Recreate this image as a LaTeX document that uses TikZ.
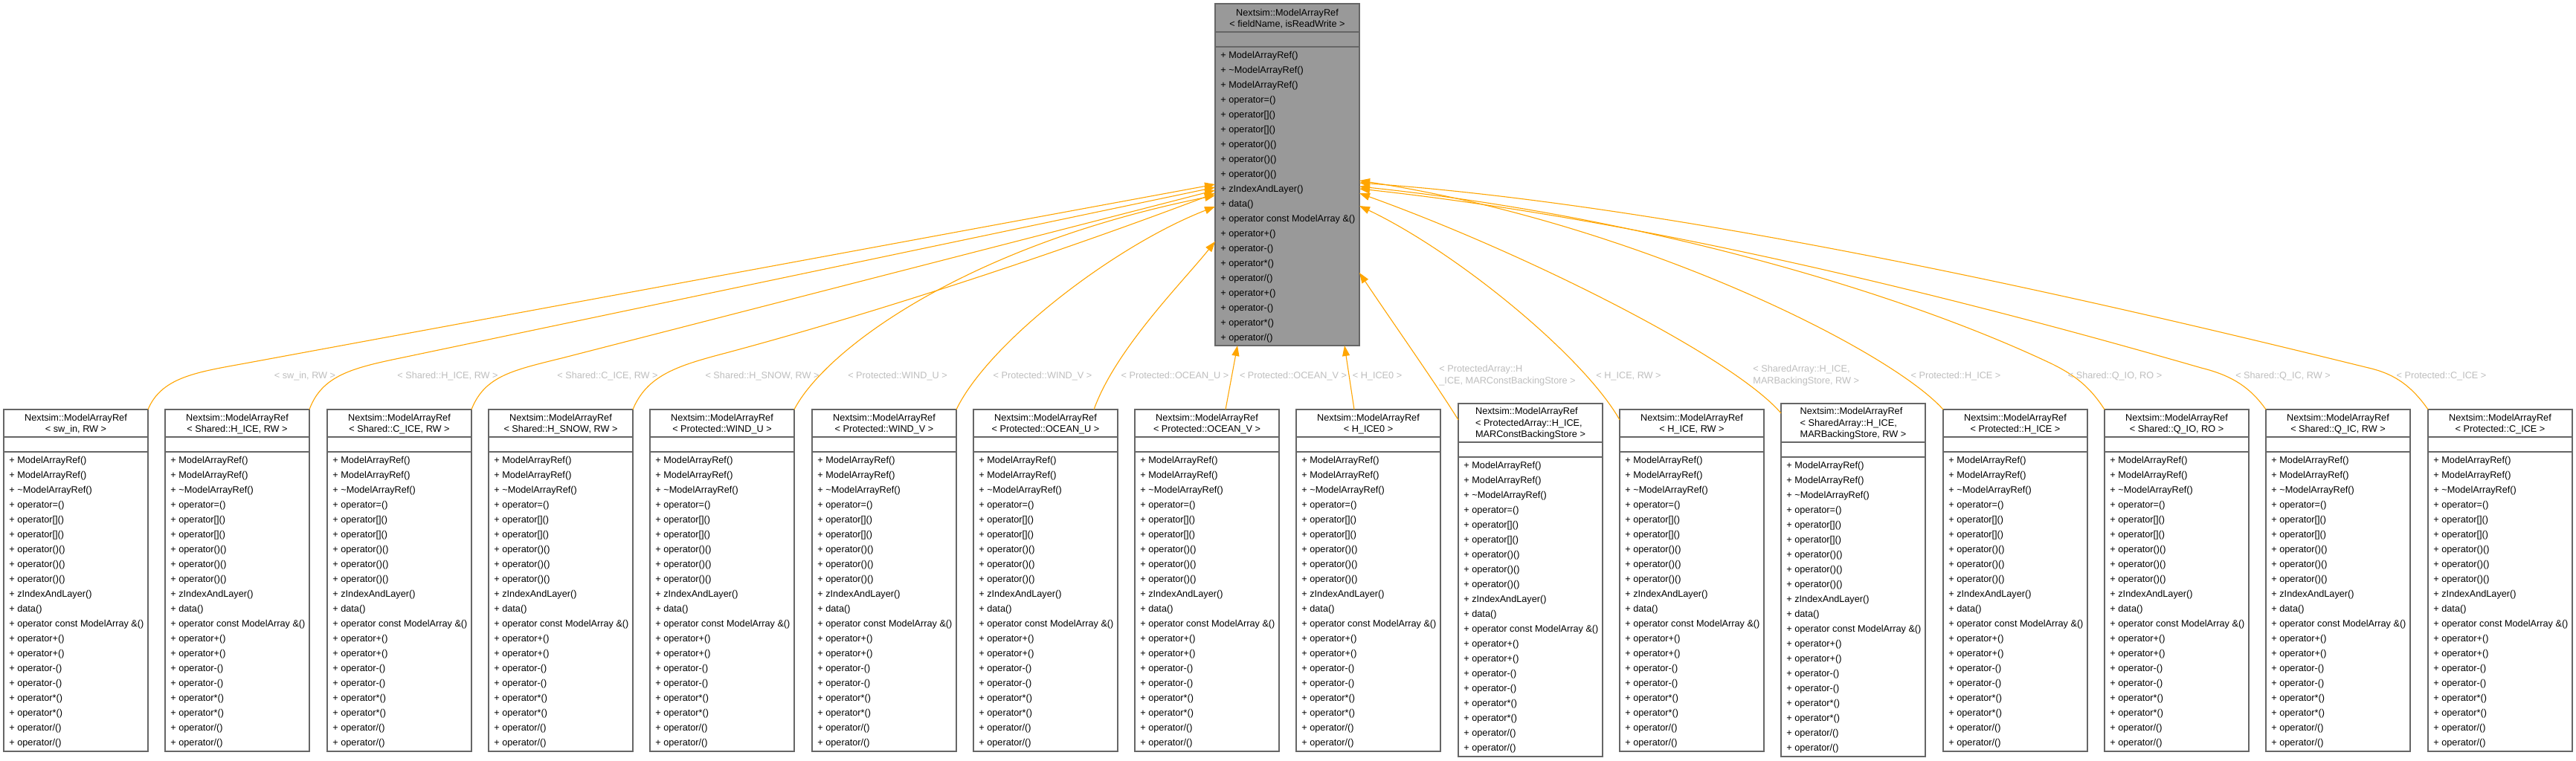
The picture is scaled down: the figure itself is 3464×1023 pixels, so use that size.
\documentclass[tikz,border=0pt]{standalone}
\usepackage{fontspec}
\setmainfont{Liberation Sans}
\usetikzlibrary{arrows.meta}
\definecolor{edgeorange}{HTML}{FFA500}
\definecolor{boxgray}{HTML}{666666}
\definecolor{basegray}{HTML}{999999}
\definecolor{labelgray}{HTML}{BEBEBE}
\newcommand\classnode[6]{%
  \node[#6, minimum width=97pt, minimum height={(#5-#3)*0.5pt}] (#1) at (#2,#3) {};
  \draw[divider] (#2,#4) -- ({#2+194},#4);
  \draw[divider] (#2,{#4+20}) -- ({#2+194},{#4+20});
}
\newcommand\memberrows[4]{%
  \foreach \m [count=\i from 0] in #4 {\node[mem] (#1m\i) at ({#2+7},{#3+35.5+20*\i}) {+ \m};}
}
\def\childmembers{{ModelArrayRef()},{ModelArrayRef()},{\textasciitilde ModelArrayRef()},{operator=()},{operator[]()},{operator[]()},{operator()()},{operator()()},{operator()()},{zIndexAndLayer()},{data()},{operator const ModelArray \&()},{operator+()},{operator+()},{operator-()},{operator-()},{operator*()},{operator*()},{operator/()},{operator/()}}
\def\basemembers{{ModelArrayRef()},{\textasciitilde ModelArrayRef()},{ModelArrayRef()},{operator=()},{operator[]()},{operator[]()},{operator()()},{operator()()},{operator()()},{zIndexAndLayer()},{data()},{operator const ModelArray \&()},{operator+()},{operator-()},{operator*()},{operator/()},{operator+()},{operator-()},{operator*()},{operator/()}}
\begin{document}
\begin{tikzpicture}[x=0.5pt,y=-0.5pt,
  clsbox/.style={draw=boxgray, line width=0.7pt, fill=white, inner sep=0pt, outer sep=0pt, anchor=north west},
  basebox/.style={clsbox, fill=basegray},
  divider/.style={draw=boxgray, line width=0.7pt},
  hdr/.style={font=\fontsize{6.35}{7.5}\selectfont, align=center, inner sep=0pt},
  hdrl/.style={font=\fontsize{6.35}{7.8}\selectfont, align=left, inner sep=0pt},
  mem/.style={font=\fontsize{6.35}{7.6}\selectfont, anchor=base west, inner sep=0pt},
  elabel/.style={font=\fontsize{6.35}{8}\selectfont, text=labelgray, inner sep=0pt},
  elabell/.style={elabel, align=left, anchor=west},
  inh/.style={draw=edgeorange, line width=0.55pt, -{Triangle[length=7pt,width=5pt]}}
]
\path[fill=white] (0,0) rectangle (3464,1023);
\useasboundingbox (0,0) rectangle (3464,1023);

% base class
\classnode{base}{1634}{5}{43}{465}{basebox}
\node[hdr] (baseh) at (1731,25.5) {Nextsim::ModelArrayRef\\< fieldName, isReadWrite >};
\memberrows{base}{1634}{43}{\basemembers}

% derived instances
\classnode{c0}{5}{551}{588}{1011}{clsbox}
\node[hdr] (c0h) at (102,571) {Nextsim::ModelArrayRef\\< sw\_in, RW >};
\memberrows{c0}{5}{588}{\childmembers}

\classnode{c1}{222}{551}{588}{1011}{clsbox}
\node[hdr] (c1h) at (319,571) {Nextsim::ModelArrayRef\\< Shared::H\_ICE, RW >};
\memberrows{c1}{222}{588}{\childmembers}

\classnode{c2}{440}{551}{588}{1011}{clsbox}
\node[hdr] (c2h) at (537,571) {Nextsim::ModelArrayRef\\< Shared::C\_ICE, RW >};
\memberrows{c2}{440}{588}{\childmembers}

\classnode{c3}{657}{551}{588}{1011}{clsbox}
\node[hdr] (c3h) at (754,571) {Nextsim::ModelArrayRef\\< Shared::H\_SNOW, RW >};
\memberrows{c3}{657}{588}{\childmembers}

\classnode{c4}{874}{551}{588}{1011}{clsbox}
\node[hdr] (c4h) at (971,571) {Nextsim::ModelArrayRef\\< Protected::WIND\_U >};
\memberrows{c4}{874}{588}{\childmembers}

\classnode{c5}{1092}{551}{588}{1011}{clsbox}
\node[hdr] (c5h) at (1189,571) {Nextsim::ModelArrayRef\\< Protected::WIND\_V >};
\memberrows{c5}{1092}{588}{\childmembers}

\classnode{c6}{1309}{551}{588}{1011}{clsbox}
\node[hdr] (c6h) at (1406,571) {Nextsim::ModelArrayRef\\< Protected::OCEAN\_U >};
\memberrows{c6}{1309}{588}{\childmembers}

\classnode{c7}{1526}{551}{588}{1011}{clsbox}
\node[hdr] (c7h) at (1623,571) {Nextsim::ModelArrayRef\\< Protected::OCEAN\_V >};
\memberrows{c7}{1526}{588}{\childmembers}

\classnode{c8}{1743}{551}{588}{1011}{clsbox}
\node[hdr] (c8h) at (1840,571) {Nextsim::ModelArrayRef\\< H\_ICE0 >};
\memberrows{c8}{1743}{588}{\childmembers}

\classnode{c9}{1961}{543}{595}{1018}{clsbox}
\node[hdrl] (c9h) at (2058,570) {Nextsim::ModelArrayRef\\< ProtectedArray::H\_ICE,\\ MARConstBackingStore >};
\memberrows{c9}{1961}{595}{\childmembers}

\classnode{c10}{2178}{551}{588}{1011}{clsbox}
\node[hdr] (c10h) at (2275,571) {Nextsim::ModelArrayRef\\< H\_ICE, RW >};
\memberrows{c10}{2178}{588}{\childmembers}

\classnode{c11}{2395}{543}{595}{1018}{clsbox}
\node[hdrl] (c11h) at (2492,570) {Nextsim::ModelArrayRef\\< SharedArray::H\_ICE,\\ MARBackingStore, RW >};
\memberrows{c11}{2395}{595}{\childmembers}

\classnode{c12}{2613}{551}{588}{1011}{clsbox}
\node[hdr] (c12h) at (2710,571) {Nextsim::ModelArrayRef\\< Protected::H\_ICE >};
\memberrows{c12}{2613}{588}{\childmembers}

\classnode{c13}{2830}{551}{588}{1011}{clsbox}
\node[hdr] (c13h) at (2927,571) {Nextsim::ModelArrayRef\\< Shared::Q\_IO, RO >};
\memberrows{c13}{2830}{588}{\childmembers}

\classnode{c14}{3047}{551}{588}{1011}{clsbox}
\node[hdr] (c14h) at (3144,571) {Nextsim::ModelArrayRef\\< Shared::Q\_IC, RW >};
\memberrows{c14}{3047}{588}{\childmembers}

\classnode{c15}{3265}{551}{588}{1011}{clsbox}
\node[hdr] (c15h) at (3362,571) {Nextsim::ModelArrayRef\\< Protected::C\_ICE >};
\memberrows{c15}{3265}{588}{\childmembers}

% arrow tips on the base class
\coordinate (t0) at (1634,248);
\coordinate (t1) at (1634,252);
\coordinate (t2) at (1634,256);
\coordinate (t3) at (1634,260);
\coordinate (t4) at (1634,263);
\coordinate (t5) at (1634,278);
\coordinate (t6) at (1634,325);
\coordinate (t7) at (1664,465);
\coordinate (t8) at (1808,465);
\coordinate (t9) at (1828,367);
\coordinate (t10) at (1828,277);
\coordinate (t11) at (1828,260);
\coordinate (t12) at (1828,243);
\coordinate (t13) at (1828,251);
\coordinate (t14) at (1828,254);
\coordinate (t15) at (1828,246);

% connectors
\draw[inh] (c0.north east) .. controls (218,505) and (271,500) .. (340,487) -- (t0);
\draw[inh] (c1.north east) .. controls (433,505) and (474,495) .. (542,481) -- (t1);
\draw[inh] (c2.north east) .. controls (652,505) and (691,498) .. (759,481) -- (t2);
\draw[inh] (c3.north east) .. controls (870,505) and (911,492) .. (976,475) .. controls (1200,415) and (1450,330) .. (t3);
\draw[inh] (c4.north east) .. controls (1110,470) and (1300,330) .. (t4);
\draw[inh] (c5.north east) .. controls (1330,460) and (1500,330) .. (t5);
\draw[inh] ([xshift=32.5pt]c6.north) .. controls (1500,470) and (1590,380) .. (t6);
\draw[inh] ([xshift=12.5pt]c7.north) -- (t7);
\draw[inh] ([xshift=-9.5pt]c8.north) -- (t8);
\draw[inh] ([yshift=-11pt]c9.north west) .. controls (1930,515) and (1870,430) .. (t9);
\draw[inh] ([yshift=-7pt]c10.north west) .. controls (2130,480) and (1960,340) .. (t10);
\draw[inh] ([yshift=-6.5pt]c11.north west) .. controls (2330,480) and (2050,340) .. (t11);
\draw[inh] (c12.north west) .. controls (2540,470) and (2200,300) .. (t12);
\draw[inh] (c13.north west) .. controls (2810,520) and (2790,505) .. (2760,490) .. controls (2550,390) and (2200,290) .. (t13);
\draw[inh] (c14.north west) .. controls (3025,520) and (3000,505) .. (2960,495) .. controls (2700,420) and (2250,300) .. (t14);
\draw[inh] (c15.north west) .. controls (3240,515) and (3215,502) .. (3185,495) .. controls (2900,425) and (2300,280) .. (t15);

% connector labels
\node[elabel] (l0) at (410,506) {< sw\_in, RW >};
\node[elabel] (l1) at (602,506) {< Shared::H\_ICE, RW >};
\node[elabel] (l2) at (817,506) {< Shared::C\_ICE, RW >};
\node[elabel] (l3) at (1025,506) {< Shared::H\_SNOW, RW >};
\node[elabel] (l4) at (1207,506) {< Protected::WIND\_U >};
\node[elabel] (l5) at (1402,506) {< Protected::WIND\_V >};
\node[elabel] (l6) at (1580,506) {< Protected::OCEAN\_U >};
\node[elabel] (l7) at (1739,506) {< Protected::OCEAN\_V >};
\node[elabel] (l8) at (1852,506) {< H\_ICE0 >};
\node[elabell] (l9) at (1935,505) {< ProtectedArray::H\\\_ICE, MARConstBackingStore >};
\node[elabel] (l10) at (2190,506) {< H\_ICE, RW >};
\node[elabell] (l11) at (2357,505) {< SharedArray::H\_ICE,\\MARBackingStore, RW >};
\node[elabel] (l12) at (2630,506) {< Protected::H\_ICE >};
\node[elabel] (l13) at (2844,506) {< Shared::Q\_IO, RO >};
\node[elabel] (l14) at (3070,506) {< Shared::Q\_IC, RW >};
\node[elabel] (l15) at (3283,506) {< Protected::C\_ICE >};
\end{tikzpicture}
\end{document}
